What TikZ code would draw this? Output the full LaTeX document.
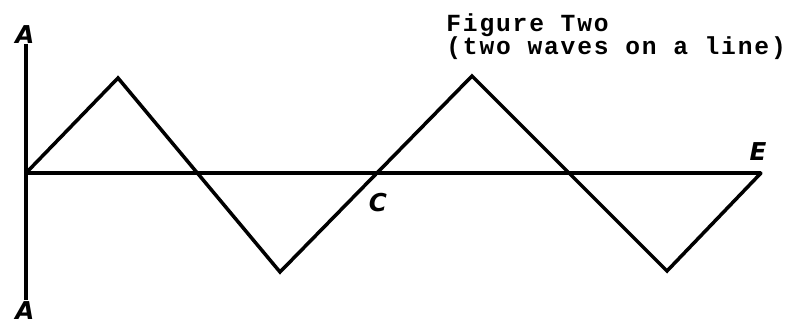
\documentclass[tikz,border=0pt]{standalone}
\usepackage{fontspec}
\newfontfamily\typewriter[LetterSpace=7.5]{Liberation Mono}
\newfontfamily\handfont{DejaVu Sans}
\usetikzlibrary{positioning}
\tikzset{
  wave/.style={line width=2pt, line join=miter, line cap=round},
  axisline/.style={line width=2pt},
  lbl/.style={font=\handfont\bfseries\itshape\fontsize{14}{14}\selectfont, inner sep=0pt},
  caption/.style={font=\typewriter\bfseries\fontsize{14}{14}\selectfont,
                  anchor=base west, inner sep=0pt},
}
\begin{document}
\begin{tikzpicture}[x=0.02cm, y=-0.02cm]
    \useasboundingbox (0,0) rectangle (807,327);
    % vertical line with its two end labels
    \node[lbl] (Atop) at (25,35) {A};
    \node[lbl] (Abot) at (25,311) {A};
    \coordinate (top) at (26,44);
    \coordinate (bot) at (26,300);
    \draw[axisline] (top) -- (bot);
    % corners of the two waves
    \coordinate (O) at (26,173);
    \coordinate (p1) at (118,78);
    \coordinate (t1) at (280,272);
    \coordinate (p2) at (472,76);
    \coordinate (t2) at (667,271);
    \coordinate (end) at (761,173);
    \draw[axisline] (O) -- (end);
    \draw[wave] (O) -- (p1) -- (t1) -- (p2) -- (t2) -- (end);
    \node[lbl] (C) at (378,203) {C};
    \node[lbl] (E) at (758,152) {E};
    \node[caption] (title) at (446,31.5) {Figure Two};
    \node[caption] (subtitle) at (446,55) {(two waves on a line)};
  \end{tikzpicture}
\end{document}
